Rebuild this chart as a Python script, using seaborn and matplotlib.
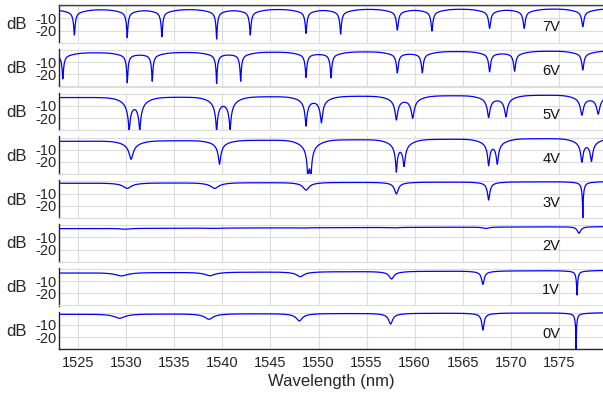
import numpy as np
import pandas as pd
import matplotlib
matplotlib.use("Agg")
import matplotlib.pyplot as plt
import seaborn as sns

# ---------------- data ----------------
voltages = ["7V", "6V", "5V", "4V", "3V", "2V", "1V", "0V"]
xticks = [1525, 1530, 1535, 1540, 1545, 1550, 1555, 1560, 1565, 1570, 1575]
ytick_values = [0, -10, -20, -30]
ytick_labels = ["", "-10", "-20", ""]

# baseline level (dB) at left / right end of each trace
base_7V = [-2.8, -2.2]
base_6V = [-2.3, -0.8]
base_5V = [-3.0, -0.8]
base_4V = [-3.0, -0.5]
base_3V = [-1.5, -0.2]
base_2V = [-2.8, -1.2]
base_1V = [-3.3, -1.2]
base_0V = [-1.2, 0.0]

# broad skirt around every dip: [depth dB, width nm]
skirt_7V = [2.0, 1.0]
skirt_6V = [2.0, 1.0]
skirt_5V = [2.0, 1.0]
skirt_4V = [2.0, 1.0]
skirt_3V = [0.6, 1.0]
skirt_2V = [0.0, 1.0]
skirt_1V = [0.6, 1.0]
skirt_0V = [0.6, 1.0]

# resonance dips: centre wavelength (nm), bottom level (dB), half width (nm)
centers_7V = [1524.6, 1530.1, 1533.7, 1539.4, 1542.9, 1548.7, 1552.3, 1558.2, 1561.8, 1567.8, 1571.4, 1577.5]
bottoms_7V = [-23.7, -25.9, -25.1, -27.0, -23.7, -22.3, -22.9, -19.6, -20.4, -18.2, -18.2, -16.8]
widths_7V = [0.3, 0.3, 0.3, 0.3, 0.3, 0.3, 0.3, 0.3, 0.3, 0.3, 0.3, 0.3]

centers_6V = [1523.4, 1530.1, 1532.7, 1539.4, 1541.9, 1548.7, 1551.3, 1558.2, 1560.8, 1567.8, 1570.4, 1577.5]
bottoms_6V = [-23.8, -26.9, -25.5, -27.4, -25.5, -22.4, -22.8, -18.7, -18.7, -17.8, -17.3, -16.4]
widths_6V = [0.3, 0.3, 0.3, 0.3, 0.3, 0.3, 0.3, 0.3, 0.3, 0.3, 0.3, 0.3]

centers_5V = [1530.3, 1531.4, 1539.4, 1540.8, 1548.7, 1550.3, 1558.1, 1559.8, 1567.7, 1569.5, 1577.4, 1579.1]
bottoms_5V = [-28.4, -27.9, -30.3, -27.9, -25.5, -22.9, -20.7, -19.3, -18.8, -18.2, -16.8, -16.0]
widths_5V = [0.6, 0.6, 0.6, 0.6, 0.5, 0.5, 0.5, 0.5, 0.45, 0.45, 0.45, 0.45]

centers_4V = [1530.5, 1539.7, 1548.9, 1549.2, 1558.1, 1558.9, 1567.7, 1568.6, 1577.4, 1578.4]
bottoms_4V = [-17.8, -21.9, -32.0, -32.0, -25.8, -21.1, -21.1, -19.8, -18.4, -17.8]
widths_4V = [0.6, 0.5, 0.45, 0.45, 0.45, 0.45, 0.4, 0.4, 0.4, 0.4]

centers_3V = [1530.1, 1539.2, 1548.7, 1558.1, 1567.7, 1577.5]
bottoms_3V = [-5.7, -5.7, -7.1, -10.3, -15.3, -33.0]
widths_3V = [0.6, 0.6, 0.5, 0.4, 0.35, 0.25]

centers_2V = [1529.9, 1539.1, 1548.3, 1557.8, 1567.4, 1577.1]
bottoms_2V = [-3.3, -2.6, -2.4, -2.2, -2.7, -6.6]
widths_2V = [0.6, 0.6, 0.5, 0.5, 0.4, 0.3]

centers_1V = [1529.5, 1538.7, 1548.1, 1557.6, 1567.1, 1576.9]
bottoms_1V = [-5.7, -5.5, -6.3, -8.2, -12.6, -21.4]
widths_1V = [0.7, 0.6, 0.5, 0.4, 0.3, 0.2]

centers_0V = [1529.3, 1538.6, 1548.0, 1557.5, 1567.1, 1576.8]
bottoms_0V = [-4.5, -5.3, -6.7, -9.2, -14.1, -32.0]
widths_0V = [0.7, 0.6, 0.5, 0.4, 0.3, 0.2]

panels = [
    (base_7V, skirt_7V, centers_7V, bottoms_7V, widths_7V),
    (base_6V, skirt_6V, centers_6V, bottoms_6V, widths_6V),
    (base_5V, skirt_5V, centers_5V, bottoms_5V, widths_5V),
    (base_4V, skirt_4V, centers_4V, bottoms_4V, widths_4V),
    (base_3V, skirt_3V, centers_3V, bottoms_3V, widths_3V),
    (base_2V, skirt_2V, centers_2V, bottoms_2V, widths_2V),
    (base_1V, skirt_1V, centers_1V, bottoms_1V, widths_1V),
    (base_0V, skirt_0V, centers_0V, bottoms_0V, widths_0V),
]

XMIN, XMAX = 1523.0, 1579.6
wl = np.linspace(XMIN, XMAX, 6000)


def trace(base, skirt, centers, bottoms, widths):
    bl, br = base
    sd, sw = skirt
    slope = (br - bl) / (XMAX - XMIN)
    level = bl + slope * (wl - XMIN)
    T = np.ones_like(wl)
    for c, b, w in zip(centers, bottoms, widths):
        bc = bl + slope * (c - XMIN)
        depth = max(bc - b - sd, 0.05)
        amp = 1 - 10 ** (-depth / 10)
        T *= 1 - amp / (1 + ((wl - c) / w) ** 2)
        level = level - sd * np.exp(-0.5 * ((wl - c) / sw) ** 2)
    return level + 10 * np.log10(T)


frames = []
for v, p in zip(voltages, panels):
    frames.append(pd.DataFrame({"Wavelength": wl, "dB": trace(*p), "V": v}))
df = pd.concat(frames, ignore_index=True)

# ---------------- drawing ----------------
sns.set_style("white")
plt.rcParams["font.family"] = ["Liberation Sans", "DejaVu Sans"]

W, H = 603, 397
fig = plt.figure(figsize=(W / 100, H / 100), dpi=100)

left_px, right_px = 59, 603
top0, pitch, height = 5, 43.8, 37.7
dark = "#262626"
gridc = "#dcdcdc"

for i, v in enumerate(voltages):
    top = top0 + pitch * i
    ax = fig.add_axes([left_px / W, 1 - (top + height) / H,
                       (right_px - left_px) / W, height / H])
    sub = df[df["V"] == v]
    sns.lineplot(data=sub, x="Wavelength", y="dB", ax=ax, color="#0000ff",
                 lw=0.9, estimator=None, sort=False, legend=False)
    ax.set_xlim(XMIN, XMAX)
    ax.set_ylim(-30, 1)
    ax.set_xticks(xticks)
    ax.set_yticks(ytick_values)
    ax.set_yticklabels(ytick_labels)
    ax.grid(True, color=gridc, lw=0.8)
    ax.set_axisbelow(True)
    ax.spines["right"].set_visible(False)
    ax.spines["left"].set_color(dark)
    ax.spines["left"].set_linewidth(1.0)
    if i == 0:
        ax.spines["top"].set_color("#444444")
        ax.spines["top"].set_linewidth(1.0)
    else:
        ax.spines["top"].set_visible(False)
    ax.tick_params(axis="y", direction="in", length=3.5, width=1.0, color=dark,
                   labelsize=10.5, labelcolor=dark, pad=2)
    if i == len(voltages) - 1:
        ax.spines["bottom"].set_color(dark)
        ax.spines["bottom"].set_linewidth(1.0)
        ax.tick_params(axis="x", direction="in", length=4, width=1.0, color=dark,
                       labelsize=10.5, labelcolor=dark, pad=5)
        ax.set_xlabel("Wavelength (nm)", fontsize=12, color=dark, labelpad=3)
    else:
        ax.spines["bottom"].set_color(gridc)
        ax.spines["bottom"].set_linewidth(0.8)
        ax.tick_params(axis="x", length=0, labelbottom=False)
        ax.set_xlabel("")
    ax.set_ylabel("dB", rotation=0, fontsize=12, color=dark, ha="right", va="center")
    ax.yaxis.set_label_coords(-0.06, 0.47)
    ax.text(1574.2, -17.5, v, ha="center", va="center", fontsize=10.5, color="#111111")

fig.savefig("out.png", dpi=100)
